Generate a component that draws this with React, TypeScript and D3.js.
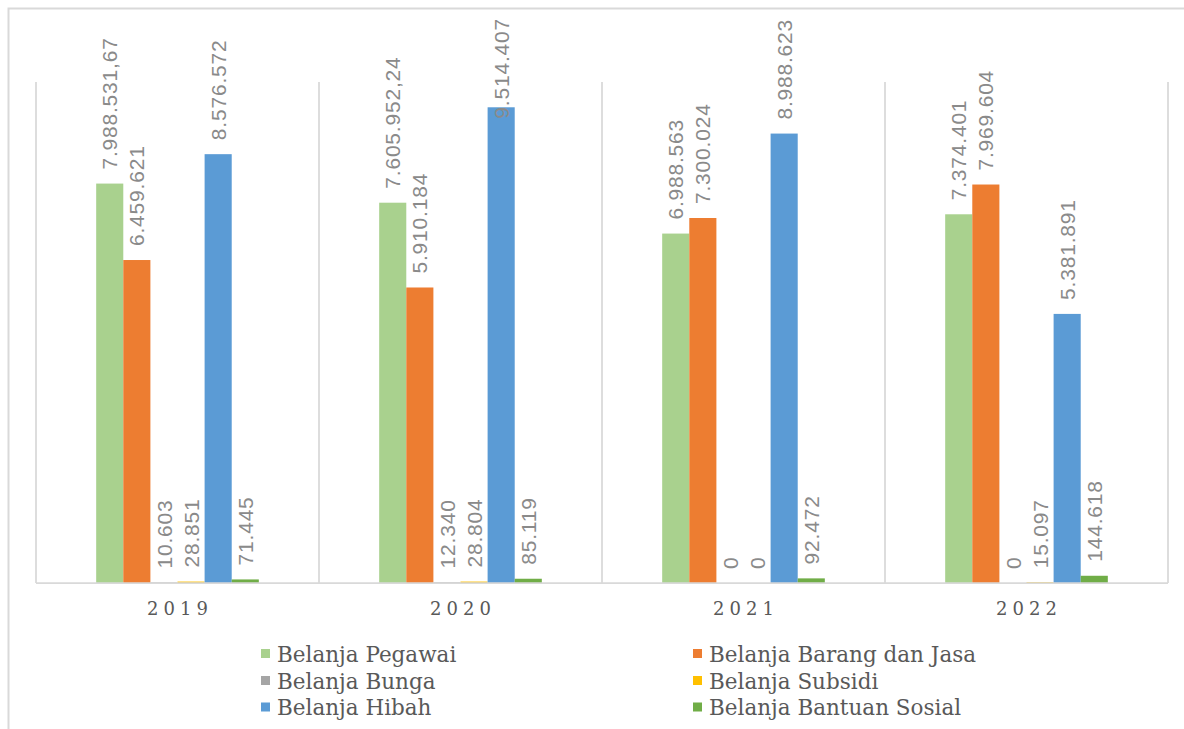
import React, { useEffect, useRef } from "react";
import * as d3 from "d3";

// Realisasi belanja per jenis, 2019–2022
const categories = ["2019", "2020", "2021", "2022"];
const seriesNames = [
  "Belanja Pegawai",
  "Belanja Barang dan Jasa",
  "Belanja Bunga",
  "Belanja Subsidi",
  "Belanja Hibah",
  "Belanja Bantuan Sosial",
];
const belanjaPegawai = [7988531.67, 7605952.24, 6988563, 7374401];
const belanjaBarangJasa = [6459621, 5910184, 7300024, 7969604];
const belanjaBunga = [10603, 12340, 0, 0];
const belanjaSubsidi = [28851, 28804, 0, 15097];
const belanjaHibah = [8576572, 9514407, 8988623, 5381891];
const belanjaBantuanSosial = [71445, 85119, 92472, 144618];
const yMax = 10000000;

const seriesValues = [
  belanjaPegawai,
  belanjaBarangJasa,
  belanjaBunga,
  belanjaSubsidi,
  belanjaHibah,
  belanjaBantuanSosial,
];
const seriesColors = ["#A9D18E", "#ED7D31", "#A5A5A5", "#FFC000", "#5B9BD5", "#70AD47"];

const W = 1184;
const H = 729;
const plot = { left: 36, right: 1168, top: 83, bottom: 583 };

const idLocale = d3.formatLocale({
  decimal: ",",
  thousands: ".",
  grouping: [3],
  currency: ["Rp", ""],
});
const fmtInt = idLocale.format(",.0f");
const fmtDec = idLocale.format(",.2f");
const formatValue = (v: number) => (Number.isInteger(v) ? fmtInt(v) : fmtDec(v));

export default function App() {
  const ref = useRef<SVGSVGElement | null>(null);

  useEffect(() => {
    const svg = d3.select(ref.current);
    svg.selectAll("*").remove();

    // outer chart frame
    svg
      .append("rect")
      .attr("x", 8.5)
      .attr("y", 8.5)
      .attr("width", 1300)
      .attr("height", 900)
      .attr("fill", "#ffffff")
      .attr("stroke", "#d9d9d9")
      .attr("stroke-width", 2);

    const x0 = d3.scaleBand<string>().domain(categories).range([plot.left, plot.right]);
    const x1 = d3
      .scaleBand<string>()
      .domain(seriesNames)
      .range([0, x0.bandwidth()])
      .paddingInner(0)
      .paddingOuter(2.22);
    const y = d3.scaleLinear().domain([0, yMax]).range([plot.bottom, plot.top]);

    // category separators
    const bounds = categories.map((c) => x0(c) as number).concat([plot.right]);
    svg
      .append("g")
      .selectAll("line")
      .data(bounds)
      .join("line")
      .attr("x1", (d) => d)
      .attr("x2", (d) => d)
      .attr("y1", plot.top - 1)
      .attr("y2", plot.bottom)
      .attr("stroke", "#d9d9d9")
      .attr("stroke-width", 1.75);

    // bars
    const barData = categories.flatMap((c, ci) =>
      seriesNames.map((s, si) => ({ c, s, si, v: seriesValues[si][ci] }))
    );
    svg
      .append("g")
      .selectAll("rect")
      .data(barData)
      .join("rect")
      .attr("x", (d) => (x0(d.c) as number) + (x1(d.s) as number))
      .attr("width", x1.bandwidth())
      .attr("y", (d) => y(d.v))
      .attr("height", (d) => y(0) - y(d.v))
      .attr("fill", (d) => seriesColors[d.si]);

    // category axis line
    svg
      .append("line")
      .attr("x1", plot.left)
      .attr("x2", plot.right)
      .attr("y1", plot.bottom)
      .attr("y2", plot.bottom)
      .attr("stroke", "#d9d9d9")
      .attr("stroke-width", 1.75);

    // rotated value labels above bars
    const labelTop = 18;
    const gap = 14;
    const labels = svg.append("g");
    barData.forEach((d) => {
      const cx = (x0(d.c) as number) + (x1(d.s) as number) + x1.bandwidth() / 2;
      const t = labels
        .append("text")
        .text(formatValue(d.v))
        .attr("font-family", "'Liberation Sans', Arial, sans-serif")
        .attr("font-size", 21)
        .attr("letter-spacing", 0.8)
        .attr("fill", "#8a8a8a")
        .attr("dy", "0.36em");
      const len = (t.node() as SVGTextElement).getComputedTextLength();
      let y0 = y(d.v) - gap;
      if (y0 - len < labelTop) y0 = labelTop + len;
      t.attr("transform", `translate(${cx},${y0}) rotate(-90)`);
    });

    // category labels
    svg
      .append("g")
      .selectAll("text")
      .data(categories)
      .join("text")
      .attr("x", (d) => (x0(d) as number) + x0.bandwidth() / 2 + 2.5)
      .attr("y", 615)
      .attr("text-anchor", "middle")
      .attr("font-family", "'DejaVu Serif', serif")
      .attr("font-size", 18)
      .attr("letter-spacing", 5)
      .attr("fill", "#595959")
      .text((d) => d);

    // legend: two columns, three rows
    const legendCols = [261, 693];
    const legendRows = [661.5, 688.5, 715];
    const legend = svg
      .append("g")
      .selectAll("g")
      .data(seriesNames)
      .join("g")
      .attr(
        "transform",
        (_, i) => `translate(${legendCols[i % 2]},${legendRows[Math.floor(i / 2)]})`
      );
    legend
      .append("rect")
      .attr("x", 0)
      .attr("y", -12.5)
      .attr("width", 9)
      .attr("height", 9)
      .attr("fill", (_, i) => seriesColors[i]);
    legend
      .append("text")
      .attr("x", 16)
      .attr("y", 0)
      .attr("font-family", "'DejaVu Serif', serif")
      .attr("font-size", 21.5)
      .attr("fill", "#595959")
      .text((d) => d);
  }, []);

  return (
    <svg
      ref={ref}
      width={W}
      height={H}
      style={{ position: "absolute", left: 0, top: 0, display: "block", background: "#ffffff" }}
    />
  );
}
